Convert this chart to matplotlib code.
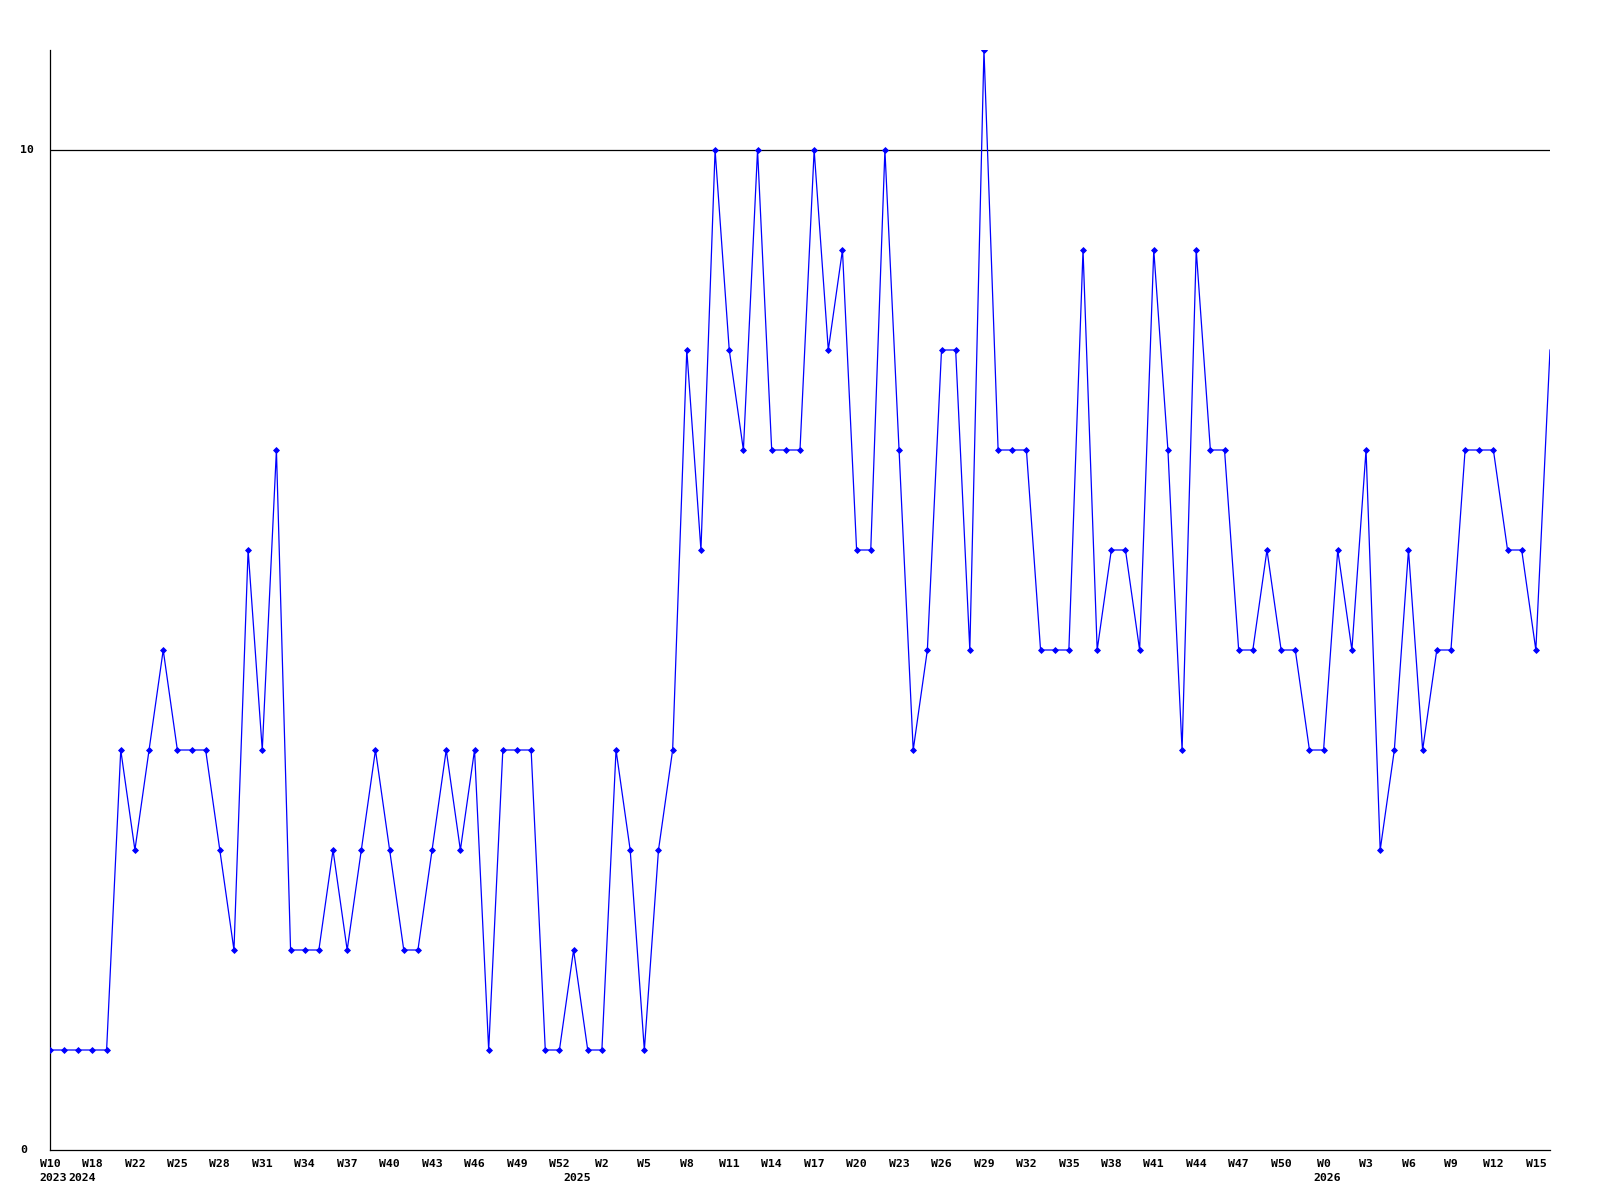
import matplotlib
matplotlib.use("Agg")
import matplotlib.pyplot as plt

# weekly counts, one value per week
values = [
    1, 1, 1, 1, 1,
    4, 3, 4, 5, 4, 4, 4, 3, 2, 6, 4, 7,
    2, 2, 2, 3, 2, 3, 4, 3, 2, 2, 3, 4, 3, 4, 1, 4, 4, 4, 1,
    1, 2, 1, 1, 4, 3, 1, 3, 4, 8, 6, 10, 8, 7, 10, 7, 7, 7, 10, 8, 9, 6, 6,
    10, 7, 4, 5, 8, 8, 5, 11,
    7, 7, 7, 5, 5, 5, 9, 5, 6, 6, 5, 9, 7, 4, 9, 7, 7, 5, 5, 6, 5, 5, 4, 4,
    6, 5, 7, 3, 4, 6, 4, 5, 5, 7, 7, 7, 6, 6, 5, 8,
]

# every third week gets a label
week_labels = [
    "W10", "W18", "W22", "W25", "W28", "W31", "W34", "W37", "W40", "W43",
    "W46", "W49", "W52", "W2", "W5", "W8", "W11", "W14", "W17", "W20",
    "W23", "W26", "W29", "W32", "W35", "W38", "W41", "W44", "W47", "W50",
    "W0", "W3", "W6", "W9", "W12", "W15",
]
year_labels = ["2023", "2024", "2025", "2026"]
year_index = [0, 2, 37, 90]

y_labels = ["0", "10"]
y_label_values = [0, 10]

font = dict(family="DejaVu Sans Mono", fontsize=8.25, fontweight="bold")

fig = plt.figure(figsize=(16, 12), dpi=100)
ax = fig.add_axes([50 / 1600, 50 / 1200, 1500 / 1600, 1100 / 1200])

x = list(range(len(values)))
ax.plot(x, values, color="#0000ff", linewidth=0.9,
        marker="D", markersize=3, markeredgewidth=0.6,
        markevery=list(range(len(values) - 1)), zorder=3)

ax.axhline(10, color="black", linewidth=0.9, zorder=2)

ax.set_xlim(0, len(values) - 1)
ax.set_ylim(0, 11)

for side in ["top", "right"]:
    ax.spines[side].set_visible(False)
for side in ["left", "bottom"]:
    ax.spines[side].set_linewidth(0.9)

ax.set_xticks(list(range(0, len(values), 3)), week_labels, **font)
ax.tick_params(axis="x", length=0, pad=6.3)
ax.set_yticks([])

for label, idx in zip(year_labels, year_index):
    ax.annotate(label, xy=(idx, 0), xycoords=("data", "axes fraction"),
                xytext=(-7.3, -16.4), textcoords="offset points",
                ha="left", va="top", **font)

for label, val in zip(y_labels, y_label_values):
    ax.annotate(label, xy=(20 / 1600, val), xycoords=("figure fraction", "data"),
                ha="left", va="center", **font)

fig.savefig("out.png", dpi=100)
